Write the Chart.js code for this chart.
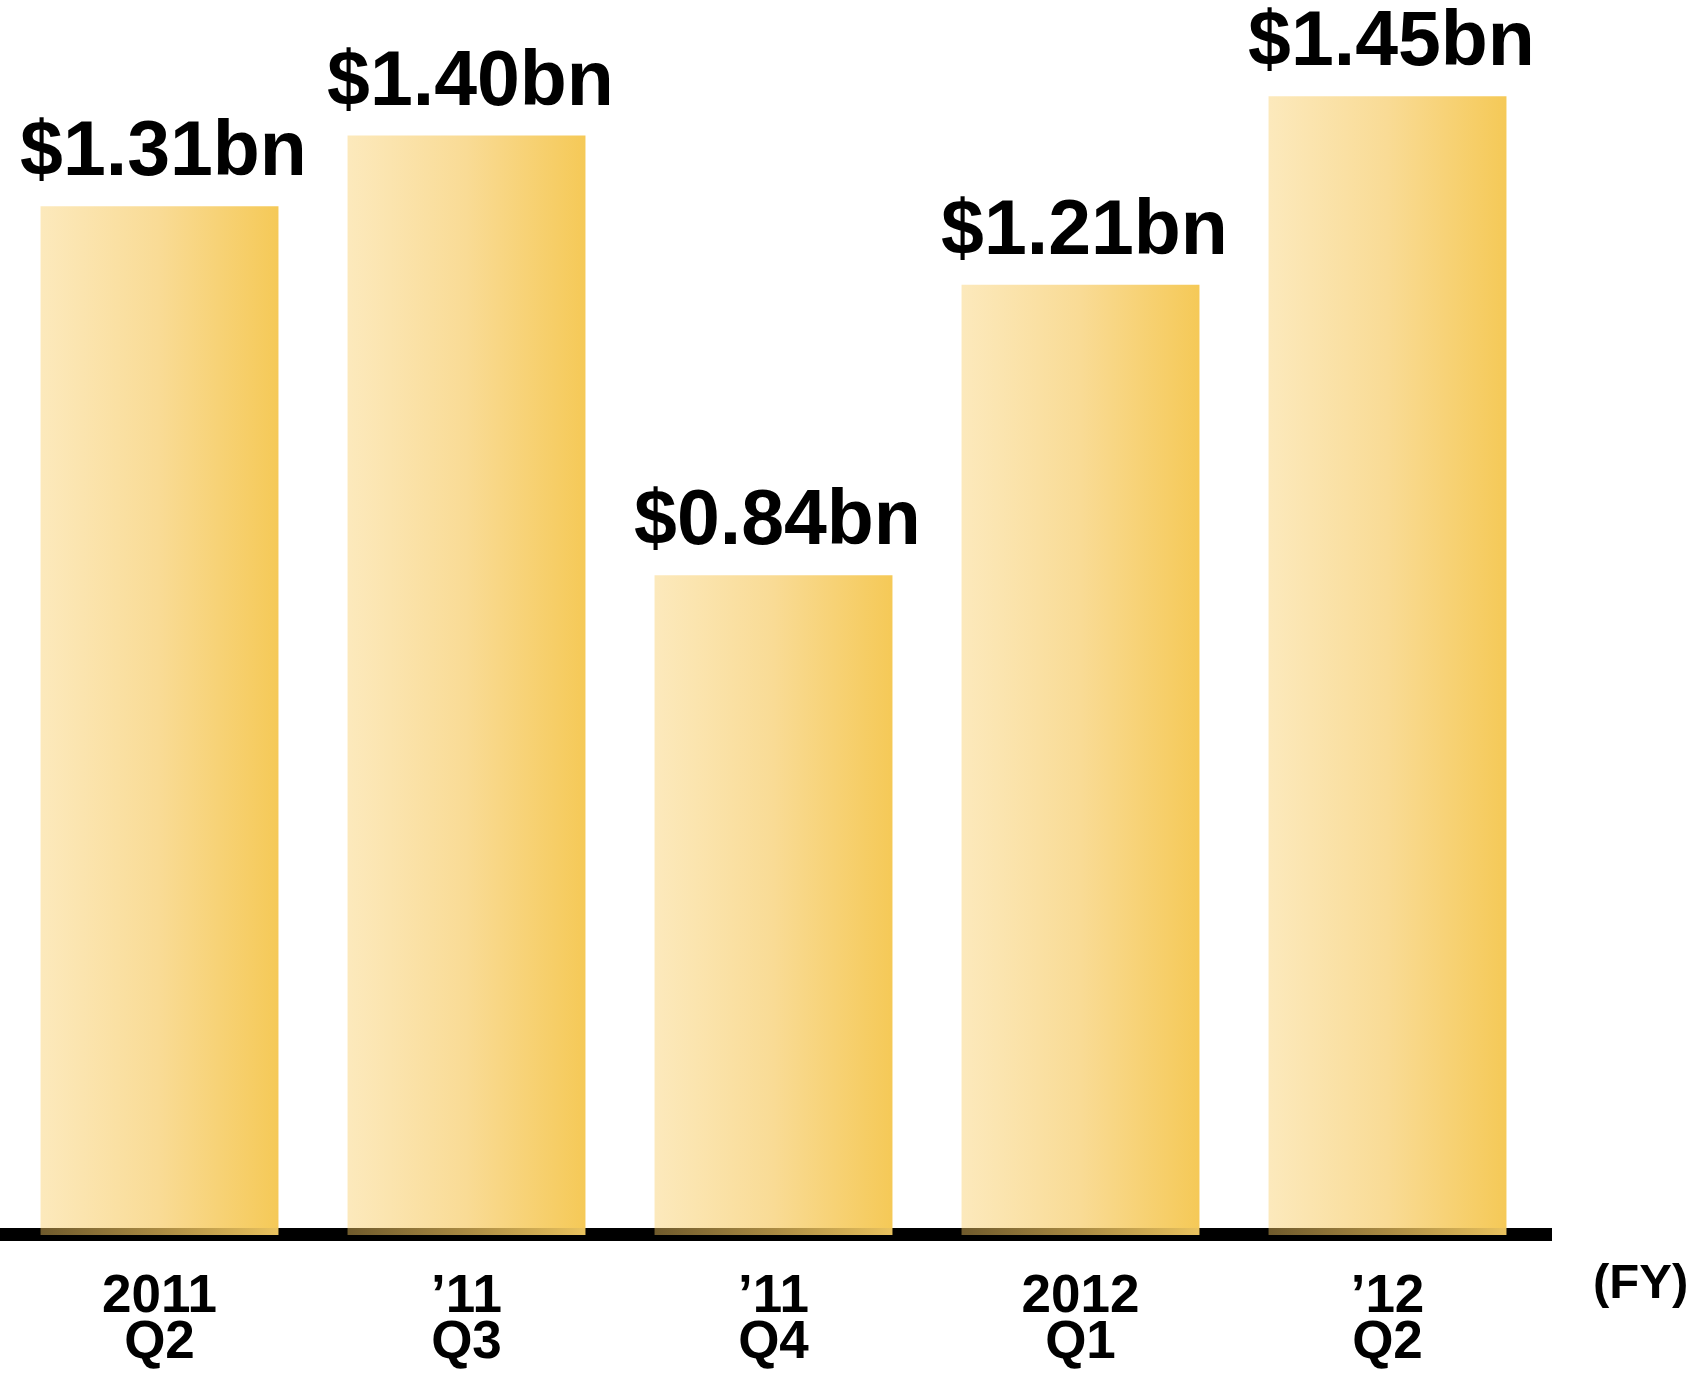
<!DOCTYPE html>
<html>
<head>
<meta charset="utf-8">
<script src="https://cdn.jsdelivr.net/npm/chart.js@4"></script>
<style>
  html, body { margin: 0; padding: 0; background: #fff; }
  #wrap { width: 1698px; height: 1373px; }
</style>
</head>
<body>
<div id="wrap"><canvas id="revChart" width="1698" height="1373"></canvas></div>
<script>
	// quarterly values, $bn
	var years = ["2011", "\u201911", "\u201911", "2012", "\u201912"];
	var quarters = ["Q2", "Q3", "Q4", "Q1", "Q2"];
	var revenue = [1.31, 1.40, 0.84, 1.21, 1.45];
	var valueLabels = ["$1.31bn", "$1.40bn", "$0.84bn", "$1.21bn", "$1.45bn"];
	var unitLabel = "(FY)";

	var FONT = "'Liberation Sans', Arial, sans-serif";
	var BAR_PCT = 0.775;

	// horizontal gold gradient, one per bar
	function barGradient(c) {
		var chart = c.chart;
		var xs = chart.scales.x;
		if (!xs || xs.width === undefined) return "#F8D98A";
		var w = xs.width / revenue.length * BAR_PCT;
		var cx = xs.getPixelForValue(c.dataIndex);
		var g = chart.ctx.createLinearGradient(cx - w / 2, 0, cx + w / 2, 0);
		g.addColorStop(0, "#FCE9BC");
		g.addColorStop(0.5, "#F9DB95");
		g.addColorStop(1, "#F5C957");
		return g;
	}

	var decor = {
		id: 'decor',
		afterDatasetsDraw: function (chart) {
			var ctx = chart.ctx;
			var y0 = chart.scales.y.getPixelForValue(0);
			// thick base line
			ctx.save();
			ctx.fillStyle = "#000";
			ctx.fillRect(0, y0 - 7, 1552, 13);
			// shaded foot of each bar over the line
			chart.getDatasetMeta(0).data.forEach(function (bar) {
				var l = bar.x - bar.width / 2, r = bar.x + bar.width / 2;
				var g = ctx.createLinearGradient(l, 0, r, 0);
				g.addColorStop(0, "#6f5a2c");
				g.addColorStop(0.5, "#a98a43");
				g.addColorStop(1, "#e9c25e");
				ctx.fillStyle = g;
				ctx.fillRect(l, y0 - 7, bar.width, 7);
			});
			// value labels
			ctx.fillStyle = "#000";
			ctx.font = "bold 77px " + FONT;
			ctx.textAlign = "center";
			ctx.textBaseline = "alphabetic";
			chart.getDatasetMeta(0).data.forEach(function (bar, i) {
				ctx.fillText(valueLabels[i], bar.x + 4, bar.y - 31);
			});
			// unit
			ctx.font = "bold 49px " + FONT;
			ctx.textAlign = "left";
			ctx.fillText(unitLabel, 1593, 1298);
			ctx.restore();
		}
	};

	var ctx = document.getElementById("revChart").getContext('2d');

	var revChart = new Chart(ctx, {
		type: 'bar',
		data: {
			labels: years.map(function (y, i) { return [y, quarters[i]]; }),
			datasets: [
				{
					data: revenue,
					backgroundColor: barGradient,
					borderWidth: 0,
					categoryPercentage: 1,
					barPercentage: BAR_PCT
				}
			]
		},
		options: {
			responsive: false,
			animation: false,
			layout: {
				padding: { left: 6, right: 157, top: 57, bottom: 0 }
			},
			plugins: {
				legend: { display: false },
				tooltip: { enabled: false }
			},
			scales: {
				x: {
					grid: { display: false, drawTicks: false },
					border: { display: false },
					ticks: {
						color: "#000",
						padding: 40,
						maxRotation: 0,
						font: { family: FONT, size: 53, weight: 'bold', lineHeight: 0.86 }
					},
					afterFit: function (scale) { scale.height = 138; }
				},
				y: {
					display: false,
					min: 0,
					max: 1.5
				}
			}
		},
		plugins: [decor]
	});
</script>
</body>
</html>
